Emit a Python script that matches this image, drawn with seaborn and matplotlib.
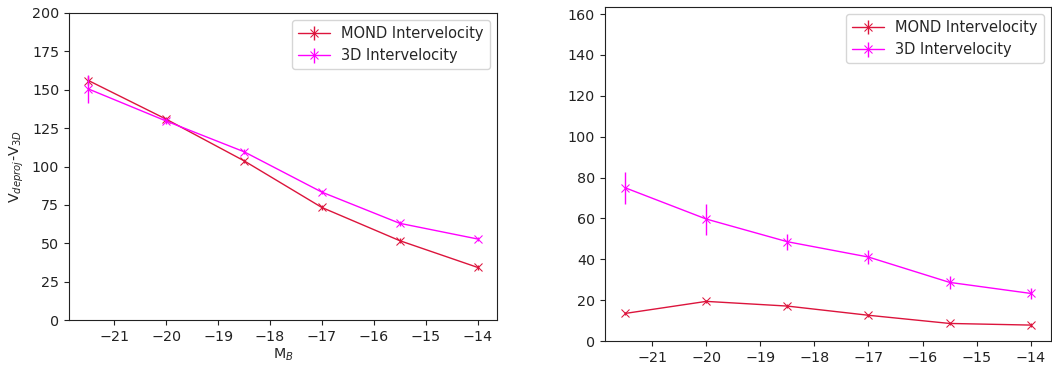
import numpy as np
import pandas as pd
import matplotlib
matplotlib.use("Agg")
import matplotlib.pyplot as plt
import seaborn as sns

# Data
mb = [-21.5, -20.0, -18.5, -17.0, -15.5, -14.0]

left_mond = [156.0, 130.8, 103.7, 73.3, 51.7, 34.3]
left_mond_err = [3.0, 1.5, 1.5, 1.5, 1.5, 1.5]
left_3d = [150.5, 129.6, 109.6, 83.3, 63.0, 52.8]
left_3d_err = [9.0, 2.0, 1.5, 1.5, 1.5, 1.5]

right_mond = [13.5, 19.4, 17.1, 12.6, 8.6, 7.8]
right_mond_err = [0.8, 0.8, 0.8, 0.8, 0.8, 0.8]
right_3d = [75.0, 59.7, 48.6, 41.1, 28.7, 23.3]
right_3d_err = [7.8, 7.6, 4.0, 3.5, 3.0, 2.5]

labels = ["MOND Intervelocity", "3D Intervelocity"]
colors = ["#DC143C", "#FF00FF"]

sns.set_style("ticks")
plt.rcParams['font.family'] = ['DejaVu Sans']
plt.rcParams['font.size'] = 10

fig = plt.figure(figsize=(10.52, 3.67), dpi=100)
ax1 = fig.add_axes([0.0656, 0.128, 0.4068, 0.8366])
ax2 = fig.add_axes([0.575, 0.0708, 0.424, 0.9102])


def draw(ax, series):
    handles = []
    for (y, e), lab, c in zip(series, labels, colors):
        df = pd.DataFrame({"x": mb, "y": y})
        sns.lineplot(data=df, x="x", y="y", ax=ax, color=c, marker="x",
                     markersize=5.5, markeredgecolor=c, linewidth=1, legend=False)
        line = ax.get_lines()[-1]
        eb = ax.errorbar(mb, y, yerr=e, fmt="none", ecolor=c, elinewidth=1)
        handles.append((line, eb))
    ax.legend(handles, labels, loc="upper right", fontsize=10.5, handlelength=2.2)
    ax.tick_params(direction="out", length=3.5, width=0.8, colors="#222222", labelsize=10.3)
    for s in ax.spines.values():
        s.set_color("#222222")
        s.set_linewidth(0.8)
    ax.set_xticks([-21, -20, -19, -18, -17, -16, -15, -14])
    ax.set_xlim(-21.875, -13.625)


draw(ax1, [(left_mond, left_mond_err), (left_3d, left_3d_err)])
ax1.set_ylim(0, 200)
ax1.set_yticks(np.arange(0, 201, 25))
ax1.set_xlabel("M$_B$", labelpad=2, fontsize=10.3)
ax1.set_ylabel("V$_{deproj}$-V$_{3D}$", fontsize=10.3)

draw(ax2, [(right_mond, right_mond_err), (right_3d, right_3d_err)])
ax2.set_ylim(0, 163.5)
ax2.set_yticks(np.arange(0, 161, 20))
ax2.set_xlabel("")
ax2.set_ylabel("")

fig.savefig("out.png", dpi=100)
